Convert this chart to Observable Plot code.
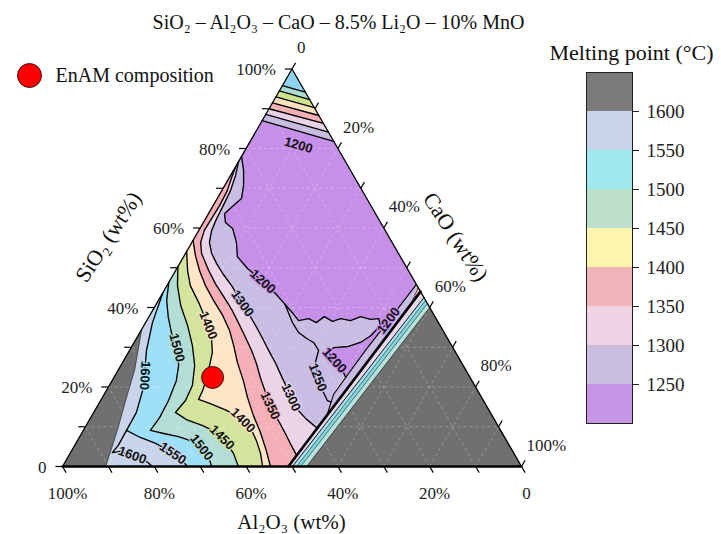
<!DOCTYPE html>
<html>
<head>
<meta charset="utf-8">
<script src="https://cdn.jsdelivr.net/npm/d3@7"></script>
<script src="https://cdn.jsdelivr.net/npm/@observablehq/plot@0.6"></script>
<style>
  html, body { margin: 0; padding: 0; background: #fff; }
  #chart { position: relative; width: 721px; height: 534px; overflow: hidden; background: #fff; }
  #chart > svg { position: absolute; }
</style>
</head>
<body>
<div id="chart"></div>
<script>
// ===== DATA (compositions as [SiO2 wt%, CaO wt%]; Al2O3 = 100 - SiO2 - CaO) =====
const titleText = "SiO₂ – Al₂O₃ – CaO – 8.5% Li₂O – 10% MnO";
const axisTitles = ["SiO₂ (wt%)", "CaO (wt%)", "Al₂O₃ (wt%)"];
const tickValues = [0, 10, 20, 30, 40, 50, 60, 70, 80, 90, 100];
const labelledTicks = [0, 20, 40, 60, 80, 100];
const gridValues = [10, 20, 30, 40, 50, 60, 70, 80, 90];

// isotherm stripes near the SiO2 apex: SiO2 where each line meets the left and right edges
const apexLeftSiO2 = [95.8, 94.5, 93.0, 91.5, 90.0, 88.6, 87.0];
const apexRightSiO2 = [94.2, 92.3, 90.3, 88.3, 86.3, 84.1, 81.8];

// isotherms of the Al2O3-rich field
const iso1200 = [[78.0,0],[74.5,2.2],[70.7,4.1],[67.4,5.3],[65.4,4.3],[63.6,3.5],[61.4,4.8],[59.9,7.1],[56.4,9.7],[52.8,11.7],[49.8,15.4],[46.0,21.2],[43.0,25.3],[39.2,30.1],[36.7,33.1],[37.2,35.0],[36.2,37.2],[37.7,38.2],[36.5,40.6],[37.2,42.0],[36.7,44.4],[37.7,46.1],[37.0,48.6],[37.2,50.3],[35.5,51.5],[32.9,50.7],[31.2,49.3],[30.2,47.2],[29.9,44.1],[28.7,43.6],[26.7,45.9],[24.9,48.3],[22.4,50.5]];
const iso1250 = [[41.0,27.9],[36.2,32.0],[33.7,34.6],[32.2,37.1],[31.2,39.1],[29.2,41.2],[26.2,42.0],[22.4,44.4],[19.1,47.1],[16.6,49.4],[16.2,50.4]];
const iso1300 = [[76.7,0],[73.2,1.1],[69.4,1.9],[65.7,2.2],[62.4,2.4],[59.4,2.8],[56.4,3.8],[53.6,5.7],[51.1,8.0],[48.3,10.9],[45.5,14.1],[41.8,17.9],[38.5,21.3],[35.5,24.3],[32.2,27.5],[29.2,30.3],[25.9,33.5],[22.1,36.9],[18.4,40.3],[14.6,43.7],[12.1,46.9],[10.6,49.2],[9.6,50.7]];
const iso1350 = [[75.5,0],[73.2,0.4],[69.4,1.2],[65.7,1.4],[62.4,1.3],[59.4,1.2],[56.4,1.9],[53.6,3.5],[49.3,7.2],[46.0,10.3],[42.5,14.0],[39.2,17.4],[36.2,20.2],[32.5,23.6],[29.2,26.6],[25.9,29.3],[22.4,31.9],[17.9,35.5],[14.1,38.7],[11.1,41.7],[8.3,44.4],[5.3,47.2],[2.8,49.6]];
const iso1375 = [[56.9,0],[53.1,2.4],[49.3,5.2],[45.5,8.4],[41.8,12.0],[38.0,15.9],[34.2,19.3],[30.4,22.1],[26.2,25.0],[21.6,28.6],[17.4,31.6],[12.8,35.2],[8.6,38.8],[4.0,42.4],[0,45.3]];
const iso1400 = [[54.1,0],[49.3,2.6],[45.5,5.1],[41.3,9.0],[36.7,13.0],[32.5,16.2],[28.7,18.3],[25.2,19.4],[21.6,20.4],[19.1,21.0],[16.9,21.2],[15.8,24.3],[14.1,28.7],[12.1,32.7],[9.6,36.2],[6.5,39.0],[3.3,41.5],[0,43.6]];
const iso1450 = [[50.3,0],[45.5,2.3],[40.5,5.5],[35.5,9.5],[30.4,13.1],[25.4,16.1],[20.4,18.1],[16.6,18.5],[13.6,17.8],[11.8,21.1],[10.3,25.4],[8.6,29.3],[6.0,32.7],[3.3,35.6],[0,38.3]];
const iso1500 = [[46.3,0],[41.8,1.8],[37.5,4.3],[32.5,7.7],[29.2,10.5],[25.4,12.6],[21.6,14.0],[16.6,14.8],[12.3,15.0],[9.1,14.6],[8.3,17.9],[7.5,21.5],[6.3,25.2],[4.5,28.3],[2.3,30.7],[0,32.5]];
const iso1550 = [[9.1,9.4],[7.3,13.3],[5.8,17.4],[4.0,21.1],[2.0,24.7],[0,27.2]];
const iso1600 = [[43.8,0],[36.2,1.5],[29.2,3.7],[22.9,6.4],[19.1,7.9],[13.6,9.3],[9.1,9.4],[5.3,9.5],[3.5,9.1],[3.8,10.7],[2.5,14.4],[1.3,17.6],[0,19.6]];
const grayLeft = [[34.5,0],[24.2,3.6],[18.4,5.0],[9.1,7.4],[0,9.4]];

// steep boundary towards the CaO-rich (high melting) field
const isoDiag1200 = [[45.8,54.2],[36.7,52.7],[29.2,51.4],[22.4,50.5],[18.1,50.0],[12.8,51.2]];
const diagPink = [[45.0,55.0],[40.5,55.5]];
const diagLines = [
  [[44.0,56.0],[0,49.2]],
  [[42.5,57.5],[0,50.1]],
  [[41.8,58.2],[0,51.0]],
  [[41.0,59.0],[0,51.9]],
  [[40.0,60.0],[0,53.2]]
];

// contour labels
const labelText = ["1200","1200","1300","1400","1500","1600","1600","1550","1500","1450","1400","1350","1300","1250","1200","1200"];
const labelComp = [[80.8,11.0],[46.5,20.4],[41.0,18.7],[35.5,14.0],[29.9,10.0],[22.9,6.5],[2.8,13.8],[3.3,22.4],[4.8,27.9],[7.3,31.1],[11.6,33.5],[15.3,37.6],[17.4,41.1],[22.4,44.4],[26.7,45.9],[36.7,52.7]];

// EnAM composition
const enam = [22.4, 21.5];
const enamLabel = "EnAM composition";

// colour bar
const legendTitle = "Melting point (°C)";
const legendLevels = [1200, 1250, 1300, 1350, 1400, 1450, 1500, 1550, 1600, 1650];
const legendTicks = [1250, 1300, 1350, 1400, 1450, 1500, 1550, 1600];

// ===== STYLES =====
const col = {purple:"#c690e8", lavender:"#c8bde2", lightpink:"#ebd3e8", pink:"#f5afb6", peach:"#fde5c6",
             green:"#d3e49c", mint:"#b3ded5", cyan:"#9ddff7", lbg:"#c8d4ea", gray:"#707070"};
const apexColors = ["#8fd3ee","#a9dcd2","#cde48e","#fde2bd","#f4b0b4","#ead2e6","#c8bce2"];
const diagFills = ["#e9d7ec","#a8e0ef","#8ed0d8","#b7e2db","#707070"];
const diagStrokes = ["#000","#111","#2d6e70","#2d6e70","#333"];
const diagWidths = [2.6, 1, 0.9, 0.9, 0.9];
const legendColors = ["#c795e6","#c9bde0","#efd3e5","#f0b5b8","#fdf5ad","#bde0cb","#a0e9f0","#c8d5e8","#7b7b7b"];
const labelAngle = [16, 42, 55, 68, 75, 93, 20, 34, 52, 45, 45, 65, 65, 68, 48, -53];
const labelHalo = [col.purple, col.purple, col.lavender, col.peach, col.mint, col.cyan, col.lbg, col.lbg,
                   col.mint, col.green, col.peach, col.pink, col.lightpink, col.lavender, col.purple, col.purple];
const serif = "Liberation Serif";
const txt = {fontFamily: serif, fill: "#111", lineAnchor: "middle"};
const lineW = 1.35;

// ===== HELPERS =====
const tern = ([s, c]) => ({x: c + s / 2, y: s});
const APEX = [100, 0], BL = [0, 0], BR = [0, 100], D0B = diagLines[0][1];
const poly = (pts, color) => Plot.line(pts.map(tern), {x: "x", y: "y", fill: color, stroke: "none", curve: "linear-closed"});
const iso = (pts, w = lineW, color = "#000") => Plot.line(pts.map(tern), {x: "x", y: "y", stroke: color, strokeWidth: w, strokeLinejoin: "round"});

const marks = [];
// base field
marks.push(poly([APEX, BL, BR], col.purple));
// apex stripes (largest first)
for (let i = apexLeftSiO2.length - 1; i >= 0; i--) {
  marks.push(poly([APEX, [apexLeftSiO2[i], 0], [apexRightSiO2[i], 100 - apexRightSiO2[i]]], apexColors[i]));
}
// Al2O3-rich field
marks.push(poly([...iso1200, ...isoDiag1200.slice(4), D0B, BL], col.lavender));
marks.push(poly([...iso1300, D0B, BL], col.lightpink));
marks.push(poly([...iso1350, D0B, BL], col.pink));
marks.push(poly([...iso1375, BL], col.peach));
marks.push(poly([...iso1400, BL], col.green));
marks.push(poly([...iso1450, BL], col.mint));
marks.push(poly([...iso1500, BL], col.cyan));
marks.push(poly([...iso1600.slice(0, 7), ...iso1550.slice(1), BL], col.lbg));
marks.push(poly([...grayLeft, BL], col.gray));
// CaO-rich side
marks.push(poly([...isoDiag1200, D0B, BR], col.lavender));
marks.push(poly([...diagPink, D0B, BR], col.pink));
diagLines.forEach((l, i) => marks.push(poly([...l, BR], diagFills[i])));

// grid
const gridLinks = [];
for (const k of gridValues) {
  gridLinks.push({a: tern([k, 0]), b: tern([k, 100 - k])});
  gridLinks.push({a: tern([0, k]), b: tern([100 - k, k])});
  gridLinks.push({a: tern([0, 100 - k]), b: tern([100 - k, 0])});
}
marks.push(Plot.link(gridLinks, {x1: d => d.a.x, y1: d => d.a.y, x2: d => d.b.x, y2: d => d.b.y,
  stroke: "#ffffff", strokeOpacity: 0.35, strokeWidth: 0.8, strokeDasharray: "3,3"}));

// isotherm lines
for (let i = 0; i < apexLeftSiO2.length; i++) {
  marks.push(iso([[apexLeftSiO2[i], 0], [apexRightSiO2[i], 100 - apexRightSiO2[i]]]));
}
[iso1200, iso1250, iso1300, iso1350, iso1375, iso1400, iso1450, iso1500, iso1600, iso1550].forEach(l => marks.push(iso(l)));
marks.push(iso(grayLeft, 0.8, "#333"));
marks.push(iso(isoDiag1200, 1.1));
marks.push(iso(diagPink, 0.8, "#333"));
diagLines.forEach((l, i) => marks.push(iso(l, diagWidths[i], diagStrokes[i])));

// triangle frame
marks.push(iso([BL, APEX, BR], 1.3));
marks.push(iso([BL, BR], 2.4));

// ticks
marks.push(Plot.link(tickValues, {x1: s => tern([s, 0]).x, y1: s => s, x2: s => tern([s, 0]).x - 1.55, y2: s => s, stroke: "#000", strokeWidth: 1.2}));
marks.push(Plot.link(tickValues, {x1: c => tern([100 - c, c]).x, y1: c => 100 - c, x2: c => tern([100 - c, c]).x + 0.78, y2: c => 100 - c + 1.55, stroke: "#000", strokeWidth: 1.2}));
marks.push(Plot.link(tickValues, {x1: a => tern([0, 100 - a]).x, y1: 0, x2: a => tern([0, 100 - a]).x + 0.78, y2: -1.55, stroke: "#000", strokeWidth: 1.2}));
const pct = v => v === 0 ? "0" : v + "%";
marks.push(Plot.text(labelledTicks, {...txt, fill: "#222", x: s => tern([s, 0]).x, y: s => s, text: pct, textAnchor: "end", dx: -16, dy: 1, fontSize: 17}));
marks.push(Plot.text(labelledTicks, {...txt, fill: "#222", x: c => tern([100 - c, c]).x, y: c => 100 - c, text: pct, textAnchor: "start", dx: 5, dy: -21, fontSize: 17}));
marks.push(Plot.text(labelledTicks, {...txt, fill: "#222", x: a => tern([0, 100 - a]).x, y: 0, text: pct, textAnchor: "middle", dx: 5, dy: 27, fontSize: 17}));

// contour labels
labelComp.forEach((p, i) => marks.push(Plot.text([tern(p)], {x: "x", y: "y", text: () => labelText[i], rotate: labelAngle[i],
  fontSize: 13, fontWeight: "bold", fontFamily: "Liberation Sans", fill: "#111", stroke: labelHalo[i], strokeWidth: 2.5, paintOrder: "stroke"})));

// EnAM point
marks.push(Plot.dot([tern(enam)], {x: "x", y: "y", r: 11, fill: "#ff0000", stroke: "#000", strokeWidth: 0.8}));

// titles and legend entry
marks.push(Plot.text([titleText], {...txt, text: d => d, frameAnchor: "top-left", textAnchor: "middle", dx: 276, dy: -46, fontSize: 20}));
marks.push(Plot.text([axisTitles[0]], {...txt, text: d => d, frameAnchor: "top-left", textAnchor: "middle", dx: 46, dy: 168, rotate: -57, fontSize: 22}));
marks.push(Plot.text([axisTitles[1]], {...txt, text: d => d, frameAnchor: "top-left", textAnchor: "middle", dx: 393, dy: 168, rotate: 57, fontSize: 22}));
marks.push(Plot.text([axisTitles[2]], {...txt, text: d => d, frameAnchor: "bottom-left", textAnchor: "middle", dx: 229, dy: 56, fontSize: 21}));
marks.push(Plot.dot([0], {frameAnchor: "top-left", dx: -33, dy: 6.5, r: 12, fill: "#ff0000", stroke: "#000", strokeWidth: 0.8}));
marks.push(Plot.text([enamLabel], {...txt, text: d => d, frameAnchor: "top-left", dx: -7, dy: 6.5, textAnchor: "start", fontSize: 20}));

const main = Plot.plot({
  width: 721, height: 534,
  marginLeft: 62, marginRight: 200, marginTop: 68.5, marginBottom: 68,
  x: {domain: [0, 100], axis: null},
  y: {domain: [0, 100], axis: null},
  style: {fontFamily: serif, background: "transparent", overflow: "visible"},
  marks
});
main.style.left = "0px"; main.style.top = "0px";
document.getElementById("chart").appendChild(main);

// colour bar
const bands = legendColors.map((c, i) => ({lo: legendLevels[i], hi: legendLevels[i + 1], color: c}));
const legend = Plot.plot({
  width: 181, height: 420,
  marginLeft: 46, marginRight: 89, marginTop: 42, marginBottom: 27,
  x: {domain: [0, 1], axis: null},
  y: {domain: [1200, 1650], axis: "right", ticks: legendTicks, tickFormat: d => String(d), tickSize: 6, tickPadding: 8, label: null},
  color: {type: "identity"},
  style: {fontFamily: serif, fontSize: "19px", background: "transparent", overflow: "visible", color: "#222"},
  marks: [
    Plot.rect(bands, {x1: 0, x2: 1, y1: "lo", y2: "hi", fill: d => d.color}),
    Plot.frame({stroke: "#222", strokeWidth: 1}),
    Plot.text([legendTitle], {...txt, text: d => d, frameAnchor: "top", textAnchor: "middle", dx: 22, dy: -20, fontSize: 22})
  ]
});
legend.style.left = "540px"; legend.style.top = "30px";
document.getElementById("chart").appendChild(legend);
</script>
</body>
</html>
